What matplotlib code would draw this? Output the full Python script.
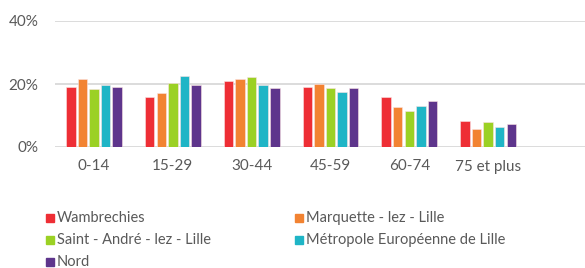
import numpy as np
import matplotlib
matplotlib.use("Agg")
import matplotlib.pyplot as plt
from matplotlib.patches import Rectangle

plt.rcParams["font.family"] = ["Lato", "DejaVu Sans"]

age_groups = ["0-14", "15-29", "30-44", "45-59", "60-74", "75 et plus"]
series_names = ["Wambrechies", "Marquette - lez - Lille", "Saint - André - lez - Lille",
                "Métropole Européenne de Lille", "Nord"]

wambrechies = [19.1, 15.9, 20.8, 19.1, 15.9, 8.1]
marquette = [21.7, 17.0, 21.7, 20.0, 12.6, 5.6]
saint_andre = [18.3, 20.4, 22.1, 18.7, 11.4, 8.0]
mel = [19.6, 22.4, 19.6, 17.4, 12.9, 6.4]
nord = [19.1, 19.6, 18.7, 18.7, 14.6, 7.3]

colors = ["#EE2E35", "#F28332", "#9BD124", "#1FB5C6", "#5E358C"]
text_color = "#595959"

def main():
    values = [wambrechies, marquette, saint_andre, mel, nord]
    fig = plt.figure(figsize=(5.85, 2.68), dpi=100)
    ax = fig.add_axes([55 / 585, 121 / 268, 530 / 585, 126 / 268])

    x = np.arange(len(age_groups))
    slot = 0.147
    for i, (name, vals) in enumerate(zip(series_names, values)):
        ax.bar(x + (i - 2) * slot, np.array(vals) / 100, width=0.12,
               color=colors[i], edgecolor="#FBE3E3", linewidth=0.4, label=name, zorder=3)

    ax.set_xlim(-0.495, 6.23)
    ax.set_ylim(0, 0.40)
    ax.set_yticks([0, 0.2, 0.4])
    ax.set_yticklabels(["0%", "20%", "40%"])
    ax.set_xticks(x)
    ax.set_xticklabels(age_groups)
    ax.yaxis.grid(True, color="#D9D9D9", linewidth=1.3, zorder=0)
    for s in ax.spines.values():
        s.set_visible(False)
    ax.tick_params(length=0, labelsize=11, colors=text_color)
    ax.tick_params(axis="y", pad=12)
    ax.tick_params(axis="x", pad=9)

    # legend, two columns
    pos = [(46, 218), (295, 218), (46, 240), (295, 240), (46, 262)]
    for i, name in enumerate(series_names):
        px, py = pos[i]
        fig.add_artist(Rectangle((px / 585, (268 - py - 4) / 268), 8 / 585, 8 / 268,
                                 transform=fig.transFigure, color=colors[i]))
        fig.text((px + 11) / 585, (268 - py) / 268, name, va="center", ha="left",
                 fontsize=10.5, color=text_color)

    fig.savefig("out.png", dpi=100)

if __name__ == "__main__":
    main()
